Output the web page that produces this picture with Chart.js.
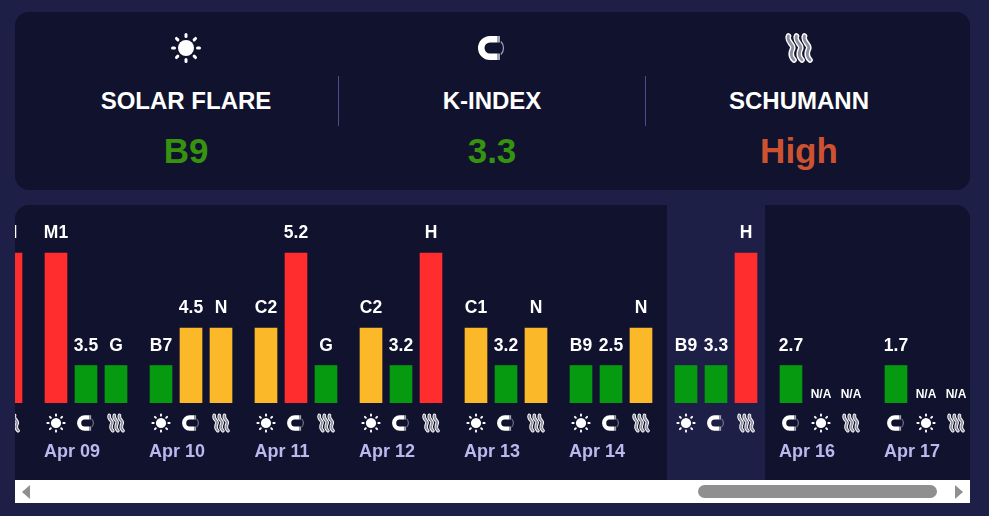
<!DOCTYPE html>
<html>
<head>
<meta charset="utf-8">
<script src="https://cdn.jsdelivr.net/npm/chart.js@4"></script>
<style>
    html, body { margin: 0; padding: 0; width: 989px; height: 516px; overflow: hidden; background: #1d1f47; }
    body { position: relative; font-family: "Liberation Sans", Arial, sans-serif; font-weight: bold; }
    .summary { position: absolute; left: 15px; top: 12px; width: 955px; height: 178px; background: #10122e; border-radius: 14px; }
    .stat { position: absolute; top: 0; width: 306px; text-align: center; }
    .stat canvas { position: absolute; left: 138px; top: 21px; }
    .stat .name { position: absolute; left: 0; right: 0; top: 75px; font-size: 24px; line-height: 28px; color: #fff; }
    .stat .now { position: absolute; left: 0; right: 0; top: 117px; font-size: 35px; line-height: 44px; }
    .divider { position: absolute; top: 64px; width: 1px; height: 50px; background: #4b4e8e; }
    .panel { position: absolute; left: 15px; top: 205px; width: 955px; height: 275px; background: #10122e; border-radius: 14px 14px 0 0; overflow: hidden; }
    .scrollbar { position: absolute; left: 15px; top: 480px; width: 955px; height: 23px; background: #fff; }
    .thumb { position: absolute; left: 683px; top: 5px; width: 239px; height: 13px; border-radius: 7px; background: #8f8f8f; }
    .arrow { position: absolute; top: 5px; width: 0; height: 0; border-top: 7px solid transparent; border-bottom: 7px solid transparent; }
    .arrow.left { left: 7px; border-right: 8px solid #8f8f8f; }
    .arrow.right { left: 940px; border-left: 8px solid #8f8f8f; }
</style>
</head>
<body>
<div class="summary">
    <div class="stat" style="left:18px"><canvas id="iconSolar" width="30" height="30"></canvas><div class="name">SOLAR FLARE</div><div class="now" id="nowSolar" style="color:#35930f"></div></div>
    <div class="divider" style="left:323px"></div>
    <div class="stat" style="left:324px"><canvas id="iconK" width="30" height="30"></canvas><div class="name">K-INDEX</div><div class="now" id="nowK" style="color:#35930f"></div></div>
    <div class="divider" style="left:630px"></div>
    <div class="stat" style="left:631px"><canvas id="iconSchumann" width="30" height="30"></canvas><div class="name">SCHUMANN</div><div class="now" id="nowSchumann" style="color:#cf5230"></div></div>
</div>
<div class="panel"><canvas id="root" width="955" height="275"></canvas></div>
<div class="scrollbar"><div class="arrow left"></div><div class="thumb"></div><div class="arrow right"></div></div>

<script>
const days = ['Apr 08', 'Apr 09', 'Apr 10', 'Apr 11', 'Apr 12', 'Apr 13', 'Apr 14', 'Apr 15', 'Apr 16', 'Apr 17']
const todayLabel = 'Apr 15'

// bar heights are levels: 1 low, 2 medium, 4 high
const solarLevels = [null, 4, 1, 2, 2, 2, 1, 1, null, null]
const solarLabels = [null, 'M1', 'B7', 'C2', 'C2', 'C1', 'B9', 'B9', 'N/A', 'N/A']
const kLevels = [null, 1, 2, 4, 1, 1, 1, 1, 1, 1]
const kLabels = [null, '3.5', '4.5', '5.2', '3.2', '3.2', '2.5', '3.3', '2.7', '1.7']
const schumannLevels = [4, 1, 2, 1, 4, 2, 2, 4, null, null]
const schumannLabels = ['H', 'G', 'N', 'G', 'H', 'N', 'N', 'H', 'N/A', 'N/A']

// slot of each series inside a day, the forecast days list K first
const solarSlots = [0, 0, 0, 0, 0, 0, 0, 0, 1, 1]
const kSlots = [1, 1, 1, 1, 1, 1, 1, 1, 0, 0]
const schumannSlots = [2, 2, 2, 2, 2, 2, 2, 2, 2, 2]

const nowSolar = 'B9'
const nowK = '3.3'
const nowSchumann = 'High'

const DAY_STEP = 3.5
const levelColor = level => level === 4 ? '#ff2d2d' : level === 2 ? '#fbb829' : '#059a10'
const slotX = (day, slot) => day * DAY_STEP + slot

function points(levels, slots) {
    return levels.map((y, day) => ({ x: slotX(day, slots[day]), y: y }))
}

function drawIcon(ctx, kind, cx, cy, s) {
    ctx.save()
    ctx.translate(cx, cy)
    ctx.scale(s, s)
    ctx.lineCap = 'round'
    if (kind === 'solar') {
        ctx.fillStyle = '#fff'
        ctx.beginPath()
        ctx.arc(0, 0, 8, 0, Math.PI * 2)
        ctx.fill()
        ctx.strokeStyle = '#fff'
        ctx.lineWidth = 3
        for (let i = 0; i < 8; i++) {
            ctx.rotate(Math.PI / 4)
            ctx.beginPath()
            ctx.moveTo(11.5, 0)
            ctx.lineTo(13.5, 0)
            ctx.stroke()
        }
    } else if (kind === 'k') {
        ctx.strokeStyle = '#fff'
        ctx.lineWidth = 6.5
        ctx.lineCap = 'butt'
        ctx.beginPath()
        ctx.moveTo(5, -8.75)
        ctx.lineTo(-2, -8.75)
        ctx.arc(-2, 0, 8.75, -Math.PI / 2, Math.PI / 2, true)
        ctx.lineTo(5, 8.75)
        ctx.stroke()
        ctx.strokeStyle = '#a4a4b2'
        ctx.beginPath()
        ctx.moveTo(5, -8.75)
        ctx.lineTo(8, -8.75)
        ctx.moveTo(5, 8.75)
        ctx.lineTo(8, 8.75)
        ctx.stroke()
        ctx.lineWidth = 1.2
        ctx.beginPath()
        ctx.arc(2, 0, 9.5, -0.75, 0.75)
        ctx.stroke()
    } else {
        for (let i = -1; i <= 1; i++) {
            [['#fff', 5.6], ['#8f8f9e', 2.8]].forEach(([color, width]) => {
                ctx.strokeStyle = color
                ctx.lineWidth = width
                ctx.beginPath()
                ctx.moveTo(i * 8 - 2.5, -12)
                ctx.bezierCurveTo(i * 8 - 5, -6, i * 8 + 4, -3, i * 8 + 1.5, 1)
                ctx.bezierCurveTo(i * 8 - 0.5, 5, i * 8, 9, i * 8 + 3, 12)
                ctx.stroke()
            })
        }
    }
    ctx.restore()
}

document.getElementById('nowSolar').textContent = nowSolar
document.getElementById('nowK').textContent = nowK
document.getElementById('nowSchumann').textContent = nowSchumann
drawIcon(document.getElementById('iconSolar').getContext('2d'), 'solar', 15, 15, 1)
drawIcon(document.getElementById('iconK').getContext('2d'), 'k', 15, 15, 1)
drawIcon(document.getElementById('iconSchumann').getContext('2d'), 'schumann', 15, 15, 1)

const series = [
    { kind: 'solar', label: 'Solar Flare', levels: solarLevels, labels: solarLabels, slots: solarSlots },
    { kind: 'k', label: 'K-Index', levels: kLevels, labels: kLabels, slots: kSlots },
    { kind: 'schumann', label: 'Schumann', levels: schumannLevels, labels: schumannLabels, slots: schumannSlots },
]

// today's column sits behind the bars
const todayColumn = {
    id: 'todayColumn',
    beforeDatasetsDraw(chart) {
        const x = chart.scales.x.getPixelForValue(slotX(days.indexOf(todayLabel), 0))
        chart.ctx.fillStyle = '#1d1f47'
        chart.ctx.fillRect(x - 19, 0, 98, chart.height)
    }
}

// value above each bar and the series icon below it
const barNotes = {
    id: 'barNotes',
    afterDatasetsDraw(chart) {
        const ctx = chart.ctx
        const xScale = chart.scales.x
        const yScale = chart.scales.y
        ctx.save()
        ctx.textAlign = 'center'
        ctx.textBaseline = 'middle'
        ctx.fillStyle = '#fff'
        series.forEach(s => {
            days.forEach((d, day) => {
                if (s.labels[day] === null) return
                const x = xScale.getPixelForValue(slotX(day, s.slots[day]))
                const level = s.levels[day]
                if (level === null) {
                    ctx.font = 'bold 12px "Liberation Sans"'
                    ctx.fillText(s.labels[day], x, yScale.getPixelForValue(0) - 8)
                } else {
                    ctx.font = 'bold 17.5px "Liberation Sans"'
                    ctx.fillText(s.labels[day], x, yScale.getPixelForValue(level) - 19.5)
                }
                drawIcon(ctx, s.kind, x, yScale.getPixelForValue(0) + 20, 0.64)
            })
        })
        ctx.restore()
    }
}

let config = {
    type: 'bar',
    data: {
        datasets: series.map(s => ({
            label: s.label,
            data: points(s.levels, s.slots),
            backgroundColor: s.levels.map(levelColor),
            barThickness: 22,
            grouped: false,
        }))
    },
    options: {
        responsive: false,
        animation: false,
        layout: { padding: 0 },
        plugins: { legend: { display: false }, tooltip: { enabled: false } },
        scales: {
            x: {
                type: 'linear',
                offset: false,
                min: 2 + 4 / 30,
                max: 2 + 4 / 30 + 955 / 30,
                grid: { display: false, drawTicks: false },
                border: { display: false },
                afterBuildTicks: scale => {
                    scale.ticks = days.map((d, day) => ({ value: slotX(day, 0.53) }))
                },
                afterFit: scale => {
                    scale.height = 77
                    scale.paddingLeft = 0
                    scale.paddingRight = 0
                },
                ticks: {
                    callback: (value, index) => days[index],
                    autoSkip: false,
                    maxRotation: 0,
                    padding: 38,
                    color: '#b9b9ee',
                    font: { family: '"Liberation Sans"', size: 18, weight: 'bold' },
                }
            },
            y: {
                display: false,
                min: 0,
                max: 198 / 37.5,
            }
        }
    },
    plugins: [todayColumn, barNotes]
}

let myChart = new Chart(document.getElementById('root').getContext('2d'), config)
</script>
</body>
</html>
